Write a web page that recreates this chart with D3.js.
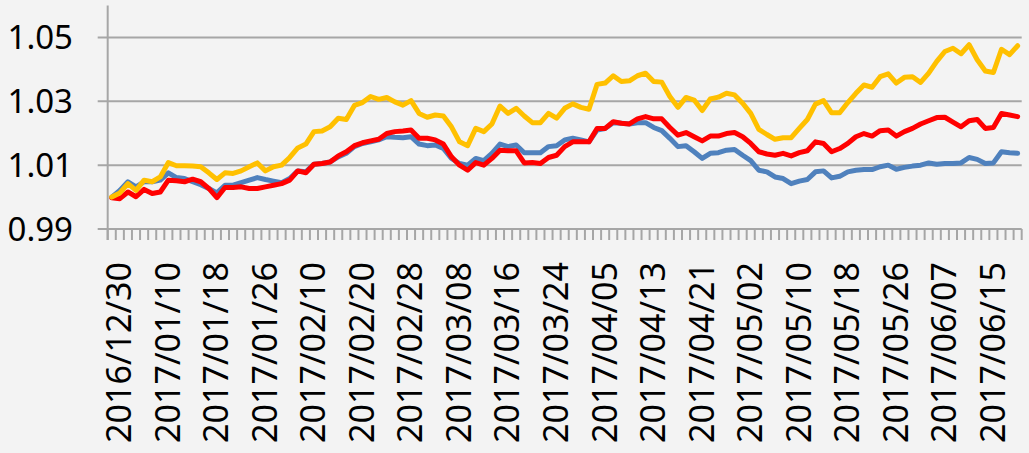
<!DOCTYPE html>
<html><head><meta charset="utf-8">
<script src="https://cdn.jsdelivr.net/npm/d3@7"></script>
<style>
html,body{margin:0;padding:0;background:#F3F3F3;}
svg{display:block;}
</style></head>
<body>
<svg id="chart" width="1029" height="453"></svg>
<script>
const dates = [
"2016/12/30","2017/01/03","2017/01/04","2017/01/05","2017/01/06","2017/01/09","2017/01/10","2017/01/11","2017/01/12","2017/01/13",
"2017/01/16","2017/01/17","2017/01/18","2017/01/19","2017/01/20","2017/01/23","2017/01/24","2017/01/25","2017/01/26","2017/02/03",
"2017/02/06","2017/02/07","2017/02/08","2017/02/09","2017/02/10","2017/02/13","2017/02/14","2017/02/15","2017/02/16","2017/02/17",
"2017/02/20","2017/02/21","2017/02/22","2017/02/23","2017/02/24","2017/02/27","2017/02/28","2017/03/01","2017/03/02","2017/03/03",
"2017/03/06","2017/03/07","2017/03/08","2017/03/09","2017/03/10","2017/03/13","2017/03/14","2017/03/15","2017/03/16","2017/03/17",
"2017/03/20","2017/03/21","2017/03/22","2017/03/23","2017/03/24","2017/03/27","2017/03/28","2017/03/29","2017/03/30","2017/03/31",
"2017/04/05","2017/04/06","2017/04/07","2017/04/10","2017/04/11","2017/04/12","2017/04/13","2017/04/14","2017/04/17","2017/04/18",
"2017/04/19","2017/04/20","2017/04/21","2017/04/24","2017/04/25","2017/04/26","2017/04/27","2017/04/28","2017/05/02","2017/05/03",
"2017/05/04","2017/05/05","2017/05/08","2017/05/09","2017/05/10","2017/05/11","2017/05/12","2017/05/15","2017/05/16","2017/05/17",
"2017/05/18","2017/05/19","2017/05/22","2017/05/23","2017/05/24","2017/05/25","2017/05/26","2017/05/31","2017/06/01","2017/06/02",
"2017/06/05","2017/06/06","2017/06/07","2017/06/08","2017/06/09","2017/06/12","2017/06/13","2017/06/14","2017/06/15","2017/06/16",
"2017/06/19","2017/06/20","2017/06/21"
];

const labelDates = ["2016/12/30","2017/01/10","2017/01/18","2017/01/26","2017/02/10","2017/02/20","2017/02/28","2017/03/08","2017/03/16","2017/03/24",
"2017/04/05","2017/04/13","2017/04/21","2017/05/02","2017/05/10","2017/05/18","2017/05/26","2017/06/07","2017/06/15"];

const yTicks = [0.99, 1.01, 1.03, 1.05];

const blue = [
1.0000,1.0021,1.0048,1.0032,1.0048,1.0048,1.0053,1.0076,1.0061,1.0058,
1.0048,1.0039,1.0027,1.0013,1.0037,1.0037,1.0045,1.0053,1.0061,1.0055,
1.0050,1.0045,1.0058,1.0082,1.0079,1.0103,1.0105,1.0110,1.0126,1.0137,
1.0158,1.0168,1.0173,1.0179,1.0189,1.0187,1.0186,1.0189,1.0166,1.0161,
1.0163,1.0152,1.0121,1.0105,1.0100,1.0121,1.0114,1.0137,1.0166,1.0158,
1.0163,1.0139,1.0139,1.0139,1.0158,1.0161,1.0179,1.0184,1.0179,1.0173,
1.0210,1.0215,1.0233,1.0231,1.0229,1.0233,1.0233,1.0218,1.0208,1.0184,
1.0158,1.0161,1.0142,1.0121,1.0137,1.0139,1.0147,1.0149,1.0131,1.0114,
1.0084,1.0079,1.0063,1.0058,1.0042,1.0050,1.0055,1.0079,1.0082,1.0060,
1.0065,1.0079,1.0084,1.0086,1.0086,1.0095,1.0100,1.0087,1.0093,1.0097,
1.0100,1.0107,1.0103,1.0105,1.0105,1.0107,1.0124,1.0118,1.0105,1.0107,
1.0142,1.0139,1.0137
];

const red = [
0.9998,0.9995,1.0016,1.0001,1.0024,1.0011,1.0016,1.0053,1.0051,1.0048,
1.0056,1.0048,1.0027,0.9998,1.0030,1.0030,1.0032,1.0027,1.0027,1.0032,
1.0037,1.0042,1.0053,1.0082,1.0076,1.0103,1.0105,1.0110,1.0129,1.0142,
1.0161,1.0170,1.0176,1.0181,1.0199,1.0205,1.0207,1.0210,1.0184,1.0184,
1.0179,1.0166,1.0126,1.0100,1.0084,1.0108,1.0100,1.0121,1.0147,1.0145,
1.0145,1.0107,1.0108,1.0105,1.0124,1.0131,1.0158,1.0173,1.0173,1.0173,
1.0215,1.0215,1.0236,1.0231,1.0229,1.0245,1.0252,1.0245,1.0245,1.0218,
1.0194,1.0202,1.0189,1.0176,1.0191,1.0191,1.0199,1.0202,1.0189,1.0168,
1.0142,1.0135,1.0131,1.0137,1.0129,1.0139,1.0145,1.0173,1.0168,1.0142,
1.0152,1.0168,1.0189,1.0199,1.0191,1.0208,1.0210,1.0191,1.0205,1.0215,
1.0229,1.0239,1.0249,1.0250,1.0235,1.0220,1.0239,1.0243,1.0215,1.0218,
1.0262,1.0257,1.0252
];

const yellow = [
1.0000,1.0013,1.0042,1.0021,1.0053,1.0048,1.0063,1.0108,1.0098,1.0098,
1.0097,1.0095,1.0076,1.0055,1.0076,1.0074,1.0082,1.0095,1.0107,1.0082,
1.0095,1.0100,1.0124,1.0154,1.0166,1.0205,1.0207,1.0220,1.0247,1.0243,
1.0287,1.0296,1.0315,1.0306,1.0312,1.0298,1.0288,1.0302,1.0262,1.0250,
1.0257,1.0254,1.0220,1.0173,1.0161,1.0215,1.0205,1.0229,1.0285,1.0262,
1.0278,1.0254,1.0233,1.0233,1.0262,1.0247,1.0278,1.0292,1.0281,1.0275,
1.0353,1.0357,1.0380,1.0362,1.0364,1.0380,1.0388,1.0362,1.0360,1.0315,
1.0281,1.0312,1.0304,1.0271,1.0307,1.0313,1.0325,1.0320,1.0294,1.0262,
1.0212,1.0196,1.0181,1.0186,1.0186,1.0215,1.0243,1.0291,1.0302,1.0264,
1.0264,1.0296,1.0325,1.0351,1.0344,1.0377,1.0386,1.0357,1.0375,1.0377,
1.0359,1.0388,1.0425,1.0456,1.0466,1.0449,1.0477,1.0430,1.0395,1.0390,
1.0463,1.0446,1.0474
];

const seriesNames = ["blue","red","yellow"];
const seriesColors = ["#4F81BD","#FF0000","#FFC000"];
const seriesValues = [blue, red, yellow];

const svg = d3.select("#chart");
const plotLeft = 107.7, plotRight = 1021.7, plotTop = 5.5, plotBottom = 229;
const gridColor = "#A6A6A6";

const x = d3.scaleBand().domain(dates).range([plotLeft, plotRight]).paddingInner(0).paddingOuter(0);
const y = d3.scaleLinear().domain([0.99, 1.06]).range([plotBottom, plotTop]);
const cx = d => x(d) + x.bandwidth() / 2;

// horizontal gridlines (extend left as tick marks)
svg.append("g").selectAll("line").data(yTicks).join("line")
  .attr("x1", plotLeft - 10).attr("x2", plotRight)
  .attr("y1", d => y(d)).attr("y2", d => y(d))
  .attr("stroke", gridColor).attr("stroke-width", 2);

// y axis line
svg.append("line").attr("x1", plotLeft).attr("x2", plotLeft)
  .attr("y1", plotTop).attr("y2", plotBottom + 11)
  .attr("stroke", gridColor).attr("stroke-width", 2);

// category tick marks (between categories)
const tickPos = dates.map(d => x(d)).concat([x(dates[dates.length-1]) + x.bandwidth()]);
svg.append("g").selectAll("line").data(tickPos).join("line")
  .attr("x1", d => d).attr("x2", d => d)
  .attr("y1", plotBottom).attr("y2", plotBottom + 11)
  .attr("stroke", gridColor).attr("stroke-width", 2);

// y labels
svg.append("g").selectAll("text").data(yTicks).join("text")
  .attr("x", 73).attr("y", d => y(d) + 11.5)
  .attr("text-anchor", "end")
  .attr("font-family", "'Noto Sans', 'Open Sans', sans-serif")
  .attr("font-size", 33).attr("fill", "#000")
  .text(d => d3.format(".2f")(d));

// x labels rotated
svg.append("g").selectAll("text").data(labelDates).join("text")
  .attr("transform", d => `translate(${cx(d) + 19.5},262) rotate(-90)`)
  .attr("text-anchor", "end")
  .attr("font-family", "'Noto Sans', 'Open Sans', sans-serif")
  .attr("font-size", 34).attr("fill", "#000")
  .text(d => d);

// lines
const line = d3.line().x((v, i) => cx(dates[i])).y(v => y(v));
svg.append("g").selectAll("path").data(seriesValues).join("path")
  .attr("d", d => line(d))
  .attr("fill", "none")
  .attr("stroke", (d, i) => seriesColors[i])
  .attr("stroke-width", 5)
  .attr("stroke-linejoin", "round")
  .attr("stroke-linecap", "round");
</script>
</body></html>
